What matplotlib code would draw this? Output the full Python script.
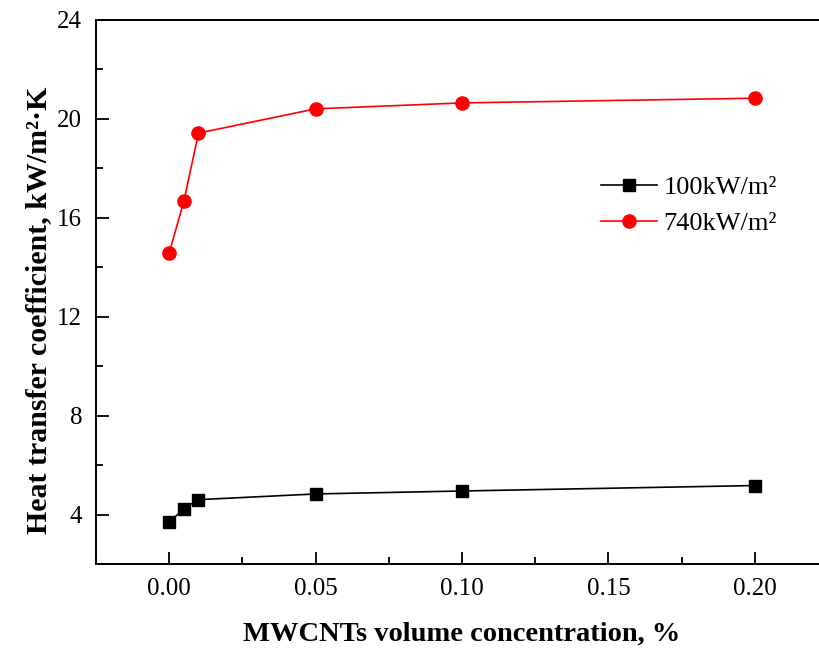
import matplotlib
matplotlib.use("Agg")
import matplotlib.pyplot as plt
from matplotlib.ticker import MultipleLocator

plt.rcParams['font.family'] = ['Liberation Serif', 'DejaVu Serif']

# MWCNTs volume concentration (%)
conc = [0.0, 0.005, 0.01, 0.05, 0.10, 0.20]
# heat transfer coefficient, kW/m2.K
htc_100 = [3.69, 4.23, 4.60, 4.83, 4.95, 5.17]
htc_740 = [14.57, 16.65, 19.41, 20.39, 20.63, 20.82]

labels = ['100kW/m²', '740kW/m²']

fig = plt.figure(figsize=(8.19, 6.55), dpi=100)
ax = fig.add_axes([96 / 819, 1 - 564 / 655, (828 - 96) / 819, (564 - 19.5) / 655])

ax.plot(conc, htc_100, color='black', marker='s', markersize=8.5, lw=1.2, label=labels[0])
ax.plot(conc, htc_740, color='red', marker='o', markersize=9.5, lw=1.2, label=labels[1])

ax.set_xlim(-0.025, 0.225)
ax.set_ylim(2, 24)
ax.xaxis.set_minor_locator(MultipleLocator(0.025))
ax.yaxis.set_minor_locator(MultipleLocator(2))
ax.set_xticks([0.0, 0.05, 0.10, 0.15, 0.20])
ax.set_xticklabels(['0.00', '0.05', '0.10', '0.15', '0.20'])
ax.set_yticks([4, 8, 12, 16, 20, 24])

ax.tick_params(which='both', direction='in', top=False, right=False, labelsize=18, width=1.3)
ax.tick_params(which='major', length=9, pad=10)
ax.tick_params(which='minor', length=5)
for s in ax.spines.values():
    s.set_linewidth(1.4)

ax.set_xlabel('MWCNTs volume concentration, %', fontsize=20.5, fontweight='bold', labelpad=16)
ax.set_ylabel('Heat transfer coefficient, kW/m²·K', fontsize=21.5, fontweight='bold', va='center')
ax.yaxis.set_label_coords(-0.079, 0.465)

ax.legend(loc='upper left', bbox_to_anchor=(0.676, 0.732), frameon=False, fontsize=19,
          handlelength=2.1, handletextpad=0.25, labelspacing=0.45, borderaxespad=0)

fig.savefig('out.png', dpi=100)
